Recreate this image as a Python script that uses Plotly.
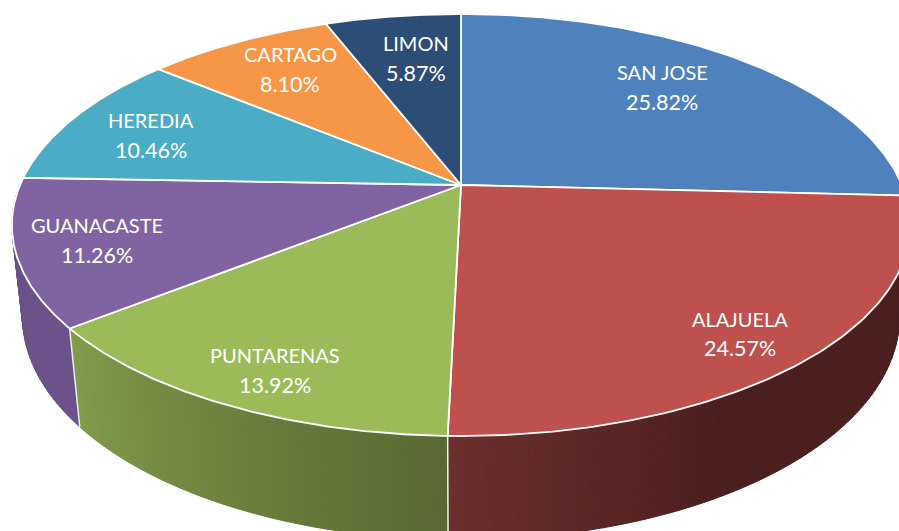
import numpy as np
import plotly.graph_objects as go

# ---- data ----
categories = ["SAN JOSE", "ALAJUELA", "PUNTARENAS", "GUANACASTE", "HEREDIA", "CARTAGO", "LIMON"]
shares = [25.82, 24.57, 13.92, 11.26, 10.46, 8.10, 5.87]

# ---- styles ----
top_colors = ["#4F81BD", "#BE504D", "#9BBB59", "#8064A2", "#4BACC6", "#F69646", "#2C4D75"]
wall_ramps = {1: ((0x6B, 0x2F, 0x2D), (0x4A, 0x1F, 0x1E)),
              2: ((0x80, 0x9B, 0x4A), (0x58, 0x6A, 0x32)),
              3: ((0x6C, 0x52, 0x8A), (0x6A, 0x50, 0x88))}
label_pos = [(662, 72, 102), (740, 319, 348), (275, 355, 385), (97, 225, 255),
             (151, 120, 150), (290, 54, 84), (416, 43, 73)]

W, H = 899, 531
CX, CY, A, B, K, M, C = 461, 185, 441, 203.4, 0.1896, 0.0235, 92.5


def project(theta, z=0.0, r=1.0):
    """theta clockwise from 12 o'clock, in radians; z=1 is the bottom rim."""
    u, v = r * np.sin(theta), -r * np.cos(theta)
    den = 1 - K * v + M * z
    return CX + A * u / den, CY + (B * v + C * z) / den


total = sum(shares)
edges = np.radians(np.cumsum([0] + shares) / total * 360)

fig = go.Figure()


def poly(x, y, fill, line=None, width=0):
    fig.add_trace(go.Scatter(x=x, y=y, mode="lines", fill="toself", fillcolor=fill,
                             line=dict(color=line or fill, width=width or 1),
                             hoverinfo="skip", showlegend=False))


# side walls (front slices only), drawn as thin shaded strips
for i, (c0, c1) in wall_ramps.items():
    t0, t1 = edges[i], edges[i + 1]
    n = max(8, int((t1 - t0) / np.radians(1.0)))
    ths = np.linspace(t0, t1, n + 1)
    for j in range(n):
        f = j / (n - 1)
        if i == 1:   # Alajuela: dark on the right, lightening towards the seam
            f = min(1.0, (1 - f) * 2.85)
        elif i == 2:  # Puntarenas: dark at the seam, light on the left
            f = 1 - f
        col = tuple(int(round(a + (b - a) * f)) for a, b in zip(c0, c1))
        tt = np.linspace(ths[j], ths[j + 1], 4)
        xa, ya = project(tt)
        xb, yb = project(tt[::-1], 1)
        poly(np.r_[xa, xb, xa[0]], np.r_[ya, yb, ya[0]], "rgb(%d,%d,%d)" % col)

# white separators on the wall
for i in (2, 3):
    x, y = project(edges[i], np.array([0.0, 1.0]))
    fig.add_trace(go.Scatter(x=x, y=y, mode="lines", line=dict(color="#F0F0F0", width=1.5),
                             hoverinfo="skip", showlegend=False))

# top face
for i, col in enumerate(top_colors):
    tt = np.linspace(edges[i], edges[i + 1], 120)
    x, y = project(tt)
    poly(np.r_[CX, x, CX], np.r_[CY, y, CY], col, "white", 1.8)

# labels
name_font = dict(family="Lato, Carlito, sans-serif", size=20, color="white")
pct_font = dict(family="Lato, Carlito, sans-serif", size=21.5, color="white")
for name, share, (lx, y1, y2) in zip(categories, shares, label_pos):
    fig.add_annotation(x=lx, y=y1, text=name, showarrow=False, font=name_font, xanchor="center", yanchor="middle")
    fig.add_annotation(x=lx, y=y2, text=f"{share:.2f}%", showarrow=False, font=pct_font, xanchor="center", yanchor="middle")

fig.update_layout(width=W, height=H, margin=dict(l=0, r=0, t=0, b=0),
                  paper_bgcolor="white", plot_bgcolor="white", showlegend=False,
                  xaxis=dict(range=[0, W], visible=False, fixedrange=True),
                  yaxis=dict(range=[H, 0], visible=False, fixedrange=True))
fig.write_html("out.html", config={"displayModeBar": False},
               post_script="document.body.style.margin='0';document.body.style.overflow='hidden';")
